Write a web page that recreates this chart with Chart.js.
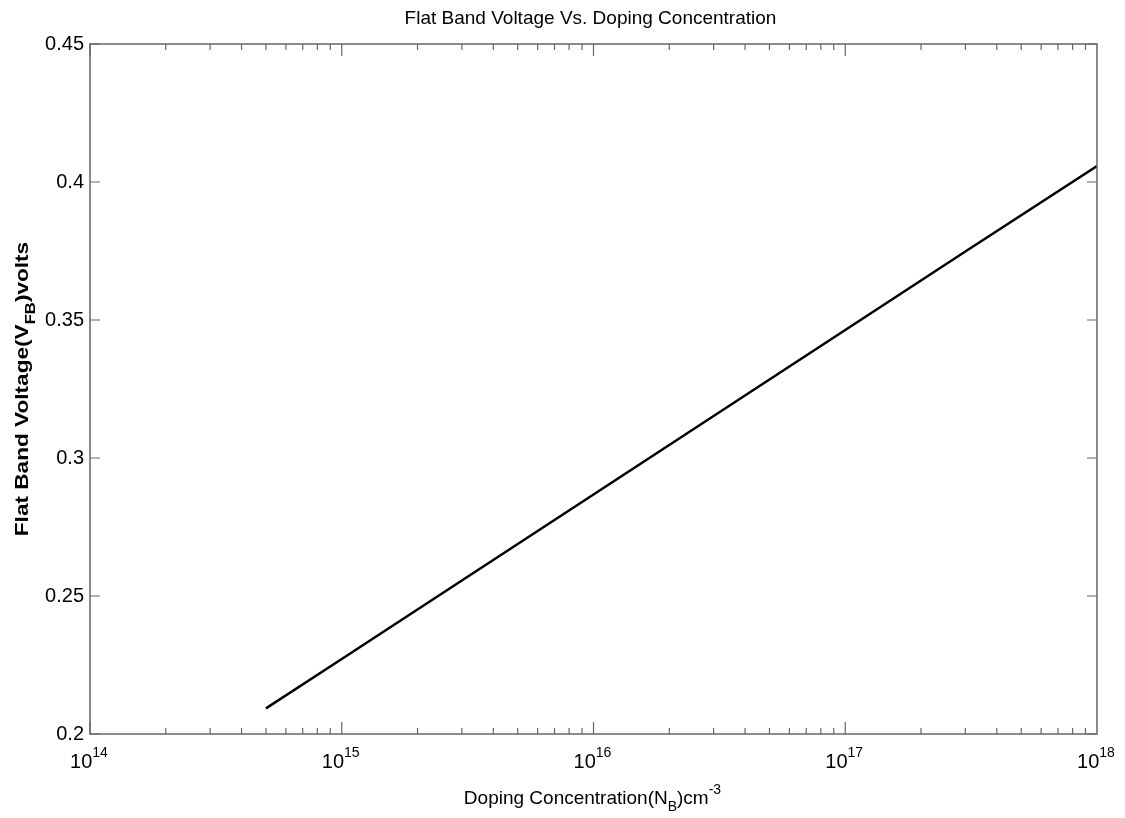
<!DOCTYPE html>
<html>
<head>
<meta charset="utf-8">
<script src="https://cdn.jsdelivr.net/npm/chart.js@4.4.0/dist/chart.umd.min.js"></script>
<style>
  body { margin: 0; background: #fff; }
  #wrap { width: 1125px; height: 818px; }
</style>
</head>
<body>
<div id="wrap"><canvas id="fbChart" width="1125" height="818"></canvas></div>
<script>
// values
var dopingN = [5e14, 1e15, 3e15, 1e16, 3e16, 1e17, 3e17, 1e18];
var flatBandV = [0.2093, 0.2272, 0.2556, 0.2868, 0.3152, 0.3464, 0.3748, 0.4058];
var xTickExps = [14, 15, 16, 17, 18];
var yTicks = [0.2, 0.25, 0.3, 0.35, 0.4, 0.45];

var titleText = "Flat Band Voltage Vs. Doping Concentration";
// [text, shift]  shift: 0 normal, -1 subscript, 1 superscript
var xTitleParts = [["Doping Concentration(N", 0], ["B", -1], [")cm", 0], ["-3", 1]];
var yTitleParts = [["Flat Band Voltage(V", 0], ["FB", -1], [")volts", 0]];

var points = [];
for (let i = 0; i < dopingN.length; i++) {
    points.push({ x: dopingN[i], y: flatBandV[i] });
}

var axisColor = '#666666';
var fontName = '"Liberation Sans", Arial, sans-serif';

// draws a piece of text with sub/superscripts, centered on cx
function drawRich(ctx, parts, cx, baseY, size, bold) {
    var w = 0;
    var wt = bold ? 'bold ' : '';
    for (let p of parts) {
        ctx.font = wt + (p[1] ? Math.round(size * 0.72) : size) + 'px ' + fontName;
        w += ctx.measureText(p[0]).width;
    }
    var x = cx - w / 2;
    ctx.textAlign = 'left';
    ctx.textBaseline = 'alphabetic';
    for (let p of parts) {
        ctx.font = wt + (p[1] ? Math.round(size * 0.72) : size) + 'px ' + fontName;
        var dy = p[1] == -1 ? size * 0.35 : (p[1] == 1 ? -size * 0.55 : 0);
        ctx.fillText(p[0], x, baseY + dy);
        x += ctx.measureText(p[0]).width;
    }
}

var matlabAxes = {
    id: 'matlabAxes',
    afterDraw: function(chart) {
        var ctx = chart.ctx;
        var a = chart.chartArea;
        var xs = chart.scales.x, ys = chart.scales.y;
        ctx.save();
        ctx.strokeStyle = axisColor;
        ctx.lineWidth = 1.5;
        ctx.strokeRect(a.left, a.top, a.right - a.left, a.bottom - a.top);

        // x ticks (log, major + minor), top and bottom, inward
        ctx.lineWidth = 1.2;
        ctx.beginPath();
        for (let e = xTickExps[0]; e < xTickExps[xTickExps.length - 1]; e++) {
            for (let m = 1; m < 10; m++) {
                var px = xs.getPixelForValue(m * Math.pow(10, e));
                var len = m == 1 ? 12 : 6;
                ctx.moveTo(px, a.bottom); ctx.lineTo(px, a.bottom - len);
                ctx.moveTo(px, a.top); ctx.lineTo(px, a.top + len);
            }
        }
        // y ticks, left and right
        for (let v of yTicks) {
            var py = ys.getPixelForValue(v);
            ctx.moveTo(a.left, py); ctx.lineTo(a.left + 10, py);
            ctx.moveTo(a.right, py); ctx.lineTo(a.right - 10, py);
        }
        ctx.stroke();

        ctx.fillStyle = '#000';
        // y tick labels
        ctx.font = '20px ' + fontName;
        ctx.textAlign = 'right';
        ctx.textBaseline = 'middle';
        for (let v of yTicks) {
            ctx.fillText(String(Math.round(v * 100) / 100), a.left - 6, ys.getPixelForValue(v));
        }
        // x tick labels 10^n
        for (let e of xTickExps) {
            var cx = xs.getPixelForValue(Math.pow(10, e));
            drawRich(ctx, [["10", 0], [String(e), 1]], cx - 1, a.bottom + 34, 20, false);
        }

        // titles
        ctx.font = '19px ' + fontName;
        ctx.textAlign = 'center';
        ctx.textBaseline = 'alphabetic';
        ctx.fillText(titleText, (a.left + a.right) / 2 - 3, 24);
        drawRich(ctx, xTitleParts, (a.left + a.right) / 2 - 1, 804, 19, false);

        // y title is stretched along its length in the reference
        ctx.translate(28, (a.top + a.bottom) / 2);
        ctx.rotate(-Math.PI / 2);
        ctx.scale(1.19, 1);
        drawRich(ctx, yTitleParts, 0, 0, 19, true);
        ctx.restore();
    }
};

var graphTarget = document.getElementById('fbChart');
var lineGraph = new Chart(graphTarget, {
    type: 'line',
    data: {
        datasets: [{
            label: 'VFB',
            data: points,
            borderColor: '#000000',
            borderWidth: 2.5,
            pointRadius: 0,
            fill: false,
            tension: 0
        }]
    },
    options: {
        responsive: false,
        animation: false,
        layout: { padding: { left: 90, right: 28, top: 44, bottom: 84 } },
        plugins: { legend: { display: false }, tooltip: { enabled: false } },
        scales: {
            x: { type: 'logarithmic', min: 1e14, max: 1e18, display: false },
            y: { type: 'linear', min: 0.2, max: 0.45, display: false }
        }
    },
    plugins: [matlabAxes]
});
</script>
</body>
</html>
